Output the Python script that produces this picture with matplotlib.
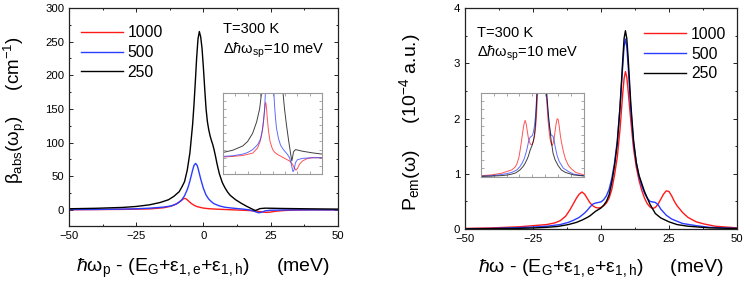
"""
Absorption and emission spectra for three densities (1000, 500, 250), with zoomed insets.
"""

import matplotlib.pyplot as plt
from matplotlib.ticker import MultipleLocator

plt.rcParams["font.family"] = ["Liberation Sans", "DejaVu Sans"]
plt.rcParams["mathtext.fontset"] = "custom"
plt.rcParams["mathtext.rm"] = "Liberation Sans"
plt.rcParams["mathtext.it"] = "Liberation Sans:italic"

LABELS = ["1000", "500", "250"]
COLORS = ["#ff1a1a", "#2a3cff", "#000000"]

# left panel: absorption beta_abs (cm^-1)
abs_x_1000 = [-50, -40, -30, -20, -15, -12.5, -11, -10, -9, -8, -7.5, -6.9, -6.3, -5.5, -4.5,
              -3.7, -2.5, -1, 0, 2, 5, 8, 11, 14, 17, 20, 22, 23.5, 25, 27, 30, 35, 40, 50]
abs_y_1000 = [0.2, 0.4, 0.7, 1.4, 3, 5, 7, 9, 11.5, 14.5, 16.3, 17, 16, 13, 9.5,
              7.4, 5, 3.5, 2.6, 1.7, 1, 0.5, 0, -0.5, -1, -2, -3.2, -3.8, -3.3, -2, -1, -0.2, 0, 0]

abs_x_500 = [-50, -40, -30, -25, -20, -15, -12, -10, -9, -8, -7, -6, -5.5, -5, -4.5,
             -4, -3.5, -2.9, -2.3, -2, -1.5, -1, -0.5, 0, 0.5, 1, 1.5, 2, 3, 4,
             6, 8, 10, 12, 15, 17, 18.5, 19.5, 20.5, 21.5, 23, 25, 30, 40, 50]
abs_y_500 = [0.4, 0.6, 1.1, 1.6, 2.5, 4, 5.8, 8.8, 11.5, 15, 21, 30, 36, 43, 51,
             59, 66, 69, 66, 62, 54, 46, 39, 32, 27, 22, 19, 16, 12, 9,
             5.8, 3.9, 2.9, 2.1, 1, 0, -1.5, -3, -4.3, -3.8, -1.5, -0.6, -0.2, 0, 0]

abs_x_250 = [-50, -40, -30, -25, -20, -16, -13, -11, -9, -8, -7, -6, -5, -4, -3.5,
             -3, -2.5, -2, -1.5, -1, -0.5, 0, 0.5, 1, 1.5, 2, 2.5, 3, 3.5, 4,
             4.5, 5, 5.5, 6, 7, 8, 9, 10, 12, 14, 16, 17.5, 18.5, 19.3, 20, 21, 23, 26, 30, 40, 50]
abs_y_250 = [1.6, 2.3, 3.6, 5, 7.5, 11, 15, 20, 27, 34, 42, 59, 85, 127, 156,
             190, 226, 254, 265, 257, 240, 212, 180, 150, 131, 119, 110, 103, 97, 89,
             80, 70, 61, 53, 41, 33, 26.5, 21.5, 15, 10, 5.5, 2.5, 0.5, -1, 0, 1.8, 2.5, 2.3, 2, 1.5, 1.1]

# right panel: emission P_em (10^-4 a.u.)
em_x_1000 = [-50, -40, -30, -25, -20, -17, -15, -13, -11.5, -10, -9, -8, -7, -6, -5,
             -4, -3, -2, -1, 0, 1, 2, 3, 4, 5, 6, 7, 8, 8.5, 9, 9.5, 10, 11, 12,
             13, 14, 15, 16, 17, 18, 19, 20, 21, 22, 23, 24, 25, 26, 27, 28,
             30, 32, 35, 38, 42, 50]
em_y_1000 = [0.01, 0.02, 0.04, 0.06, 0.08, 0.11, 0.15, 0.23, 0.34, 0.47, 0.56, 0.63, 0.67, 0.63, 0.55,
             0.47, 0.42, 0.39, 0.38, 0.39, 0.42, 0.47, 0.56, 0.72, 0.98, 1.3, 1.8, 2.45, 2.72, 2.85, 2.75, 2.5, 1.95, 1.45,
             1.12, 0.88, 0.7, 0.56, 0.46, 0.4, 0.37, 0.39, 0.45, 0.54, 0.63, 0.69, 0.68, 0.6, 0.5, 0.42,
             0.3, 0.21, 0.13, 0.09, 0.05, 0.02]

em_x_500 = [-50, -40, -30, -25, -20, -15, -12, -10, -8, -6, -5, -4, -3, -2, -1, 0,
            1, 2, 3, 4, 5, 6, 7, 8, 8.5, 9, 9.5, 10, 11, 12, 13, 14, 15, 16, 17, 18,
            19, 20, 21, 22, 24, 26, 30, 35, 40, 50]
em_y_500 = [0.005, 0.01, 0.025, 0.035, 0.05, 0.08, 0.12, 0.16, 0.21, 0.29, 0.34, 0.4, 0.45, 0.47, 0.48, 0.49,
            0.53, 0.6, 0.72, 0.92, 1.2, 1.6, 2.2, 2.95, 3.3, 3.44, 3.3, 2.95, 2.15, 1.55, 1.2, 0.95, 0.78, 0.65, 0.56, 0.5,
            0.49, 0.48, 0.44, 0.36, 0.25, 0.18, 0.1, 0.06, 0.03, 0.01]

em_x_250 = [-50, -40, -30, -25, -20, -16, -12, -9, -7, -5, -4, -3, -2, -1, 0,
            1, 2, 3, 4, 5, 6, 7, 8, 8.5, 9, 9.5, 10, 11, 12, 13, 14, 16, 18,
            20, 22, 25, 28, 32, 40, 50]
em_y_250 = [0.003, 0.006, 0.012, 0.018, 0.03, 0.045, 0.08, 0.12, 0.16, 0.21, 0.24, 0.28, 0.32, 0.35, 0.38,
            0.43, 0.5, 0.62, 0.85, 1.15, 1.55, 2.2, 3.05, 3.45, 3.59, 3.45, 3.1, 2.25, 1.6, 1.2, 0.97, 0.68, 0.45,
            0.28, 0.2, 0.13, 0.08, 0.05, 0.02, 0.008]

abs_series = [(abs_x_1000, abs_y_1000), (abs_x_500, abs_y_500), (abs_x_250, abs_y_250)]
em_series = [(em_x_1000, em_y_1000), (em_x_500, em_y_500), (em_x_250, em_y_250)]


def style_axes(ax, ymajor, yminor, color="#222222", length=3, size=8.2):
    ax.xaxis.set_major_locator(MultipleLocator(25))
    ax.xaxis.set_minor_locator(MultipleLocator(12.5))
    ax.yaxis.set_major_locator(MultipleLocator(ymajor))
    ax.yaxis.set_minor_locator(MultipleLocator(yminor))
    ax.tick_params(which="both", direction="in", top=True, right=True,
                   color=color, width=0.7, labelsize=size)
    ax.tick_params(which="major", length=length)
    ax.tick_params(which="minor", length=length * 0.6)
    for sp in ax.spines.values():
        sp.set_color(color)
        sp.set_linewidth(0.9)


fig = plt.figure(figsize=(7.47, 2.88), dpi=100)
ax1 = fig.add_axes([0.0924, 0.2153, 0.3597, 0.757])
ax2 = fig.add_axes([0.6225, 0.2049, 0.364, 0.767])

for (x, y), c, lab in zip(abs_series, COLORS, LABELS):
    ax1.plot(x, y, color=c, lw=1.0, label=lab)
for (x, y), c, lab in zip(em_series, COLORS, LABELS):
    ax2.plot(x, y, color=c, lw=1.0, label=lab)

ax1.set_xlim(-50, 50)
ax1.set_ylim(-24, 300)
ax2.set_xlim(-50, 50)
ax2.set_ylim(0, 4)
style_axes(ax1, 50, 25)
style_axes(ax2, 1, 0.5)

ax1.set_xlabel(r"$\hbar$ω$_\mathrm{p}$ - (E$_\mathrm{G}$+ε$_\mathrm{1,e}$+ε$_\mathrm{1,h}$)     (meV)",
               fontsize=14, va="top")
ax1.xaxis.set_label_coords(0.5, -0.142)
ax1.set_ylabel(r"β$_\mathrm{abs}$(ω$_\mathrm{p}$)     (cm$^\mathrm{-1}$)", fontsize=13.5)
ax1.yaxis.set_label_coords(-0.152, 0.53)

ax2.set_xlabel(r"$\hbar$ω - (E$_\mathrm{G}$+ε$_\mathrm{1,e}$+ε$_\mathrm{1,h}$)     (meV)",
               fontsize=14, va="top")
ax2.xaxis.set_label_coords(0.5, -0.127)
ax2.set_ylabel(r"P$_\mathrm{em}$(ω)     (10$^\mathrm{-4}$ a.u.)", fontsize=14)
ax2.yaxis.set_label_coords(-0.154, 0.484)

ax1.text(0.572, 0.884, "T=300 K", transform=ax1.transAxes, fontsize=10.5)
ax1.text(0.572, 0.792, r"Δ$\hbar$ω$_\mathrm{sp}$=10 meV", transform=ax1.transAxes, fontsize=10.5)
ax2.text(0.044, 0.867, "T=300 K", transform=ax2.transAxes, fontsize=10.5)
ax2.text(0.044, 0.78, r"Δ$\hbar$ω$_\mathrm{sp}$=10 meV", transform=ax2.transAxes, fontsize=10.5)

leg_kw = dict(frameon=False, fontsize=11.3, handlelength=2.65, handletextpad=0.32,
              labelspacing=0.3, borderpad=0, borderaxespad=0)
ax1.legend(loc="upper left", bbox_to_anchor=(0.045, 0.92), **leg_kw)
ax2.legend(loc="upper left", bbox_to_anchor=(0.66, 0.915), **leg_kw)

# insets
in1 = ax1.inset_axes([0.572, 0.2385, 0.371, 0.373])
for (x, y), c in zip(abs_series, COLORS):
    in1.plot(x, y, color=c, lw=0.7, alpha=0.75)
in1.set_xlim(-50, 50)
in1.set_ylim(-5, 20)
in1.yaxis.set_major_locator(MultipleLocator(2.5))

in2 = ax2.inset_axes([0.0577, 0.237, 0.38, 0.38])
for (x, y), c in zip(em_series, COLORS):
    in2.plot(x, y, color=c, lw=0.7, alpha=0.75)
in2.set_xlim(-50, 50)
in2.set_ylim(0, 1)
in2.yaxis.set_major_locator(MultipleLocator(0.1))

for ins in (in1, in2):
    ins.xaxis.set_major_locator(MultipleLocator(12.5))
    ins.tick_params(direction="in", top=True, right=True, length=2, width=0.6,
                    color="#999999", labelbottom=False, labelleft=False)
    for sp in ins.spines.values():
        sp.set_color("#999999")
        sp.set_linewidth(0.8)

fig.savefig("out.png", dpi=100)
